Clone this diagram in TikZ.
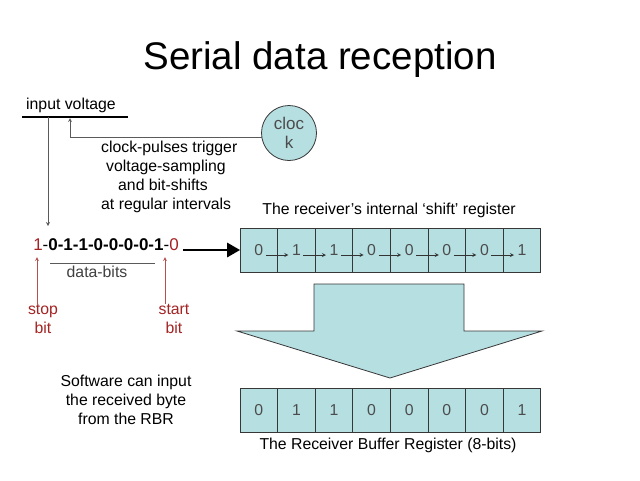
\documentclass[tikz,border=0pt]{standalone}
\usepackage{fontspec}
\setmainfont{Liberation Sans}
\usetikzlibrary{positioning, arrows}
\definecolor{regfill}{RGB}{182,223,225}
\definecolor{regline}{RGB}{55,55,55}
\definecolor{bitred}{RGB}{165,35,35}
\definecolor{wiregray}{RGB}{90,90,90}
\tikzstyle{cell} = [rectangle, minimum width=37.6pt, minimum height=44pt, inner sep=0pt, outer sep=0pt, text centered, draw=regline, fill=regfill, line width=0.8pt, text=black!70, font=\fontsize{15.8}{18}\selectfont]
\tikzstyle{note} = [inner sep=0pt, align=center, font=\fontsize{15.8}{18.8}\selectfont]
\tikzstyle{wire} = [draw=wiregray, line width=0.8pt, ->, >=stealth]
\tikzstyle{redarrow} = [draw=bitred!80, line width=0.8pt, ->, >=stealth]
\tikzstyle{shiftarrow} = [draw=black!80, line width=0.8pt, ->, >=stealth]
\tikzstyle{bigarrow} = [line width=2.6pt, -triangle 60]

\begin{document}
\begin{tikzpicture}[x=1pt, y=-1pt]

\useasboundingbox [fill=white] (0,0) rectangle (640,480);

\node (title) [inner sep=0pt, font=\fontsize{38.5}{40}\selectfont] at (320,60) {Serial data reception};

\node (vin) [note] at (71,105) {input voltage};
\draw [line width=1.8pt] (22,117) -- (128,117);
\coordinate (vtap) at (48,117);
\coordinate (vend) at (48,226);
\coordinate (sample) at (70,118);

\node (clk) [circle, minimum size=55pt, inner sep=0pt, draw=regline, line width=0.8pt, fill=regfill, text=black!70, note, font=\fontsize{17}{19}\selectfont] at (289,133) {cloc\\k};

\node (clktext) [note, align=left, anchor=north west] at (101,141) {clock-pulses trigger\\\hspace*{5pt}voltage-sampling\\\hspace*{17pt}and bit-shifts\\at regular intervals};

\node (bits) [inner sep=0pt, font=\fontsize{17}{20}\selectfont] at (106,245) {\textcolor{bitred}{1}-\textbf{0-1-1-0-0-0-0-1}-\textcolor{bitred}{0}};
\draw [wiregray, line width=0.8pt] (50,263) -- (155,263);
\node (databits) [note, text=black!75] at (97,272) {data-bits};

\node (stop) [note, text=bitred] at (43,319) {stop\\bit};
\node (start) [note, text=bitred] at (174,319) {start\\bit};
\coordinate (stopbit) at (37,257);
\coordinate (startbit) at (165,257);

\node (shifttitle) [note] at (389,210) {The receiver’s internal ‘shift’ register};

\node (R1) [cell] at (258.8,250) {0};
\node (R2) [cell, right=0pt of R1] {1};
\node (R3) [cell, right=0pt of R2] {1};
\node (R4) [cell, right=0pt of R3] {0};
\node (R5) [cell, right=0pt of R4] {0};
\node (R6) [cell, right=0pt of R5] {0};
\node (R7) [cell, right=0pt of R6] {0};
\node (R8) [cell, right=0pt of R7] {1};

\draw [fill=regfill, draw=regline, line width=0.8pt] (314,284) -- (464,284) -- (464,331) -- (542,331) -- (390,378) -- (237,331) -- (314,331) -- cycle;

\node (B1) [cell] at (258.8,410) {0};
\node (B2) [cell, right=0pt of B1] {1};
\node (B3) [cell, right=0pt of B2] {1};
\node (B4) [cell, right=0pt of B3] {0};
\node (B5) [cell, right=0pt of B4] {0};
\node (B6) [cell, right=0pt of B5] {0};
\node (B7) [cell, right=0pt of B6] {0};
\node (B8) [cell, right=0pt of B7] {1};

\node (rbrtitle) [note] at (388,445) {The Receiver Buffer Register (8-bits)};

\node (software) [note] at (126,400) {Software can input\\the received byte\\from the RBR};

\draw [wire] (vtap) -- (vend);
\draw [wire] (clk.190) -| (sample);
\draw [redarrow] (stop.north -| stopbit) -- (stopbit);
\draw [redarrow] (start.north -| startbit) -- (startbit);
\draw [bigarrow, shorten <=4pt] (bits.east |- R1.west) -- (R1.west);

\draw [shiftarrow] ([xshift=7pt, yshift=-5pt]R1.center) -- ([xshift=-8pt, yshift=-5pt]R2.center);
\draw [shiftarrow] ([xshift=7pt, yshift=-5pt]R2.center) -- ([xshift=-8pt, yshift=-5pt]R3.center);
\draw [shiftarrow] ([xshift=7pt, yshift=-5pt]R3.center) -- ([xshift=-8pt, yshift=-5pt]R4.center);
\draw [shiftarrow] ([xshift=7pt, yshift=-5pt]R4.center) -- ([xshift=-8pt, yshift=-5pt]R5.center);
\draw [shiftarrow] ([xshift=7pt, yshift=-5pt]R5.center) -- ([xshift=-8pt, yshift=-5pt]R6.center);
\draw [shiftarrow] ([xshift=7pt, yshift=-5pt]R6.center) -- ([xshift=-8pt, yshift=-5pt]R7.center);
\draw [shiftarrow] ([xshift=7pt, yshift=-5pt]R7.center) -- ([xshift=-8pt, yshift=-5pt]R8.center);

\end{tikzpicture}
\end{document}
